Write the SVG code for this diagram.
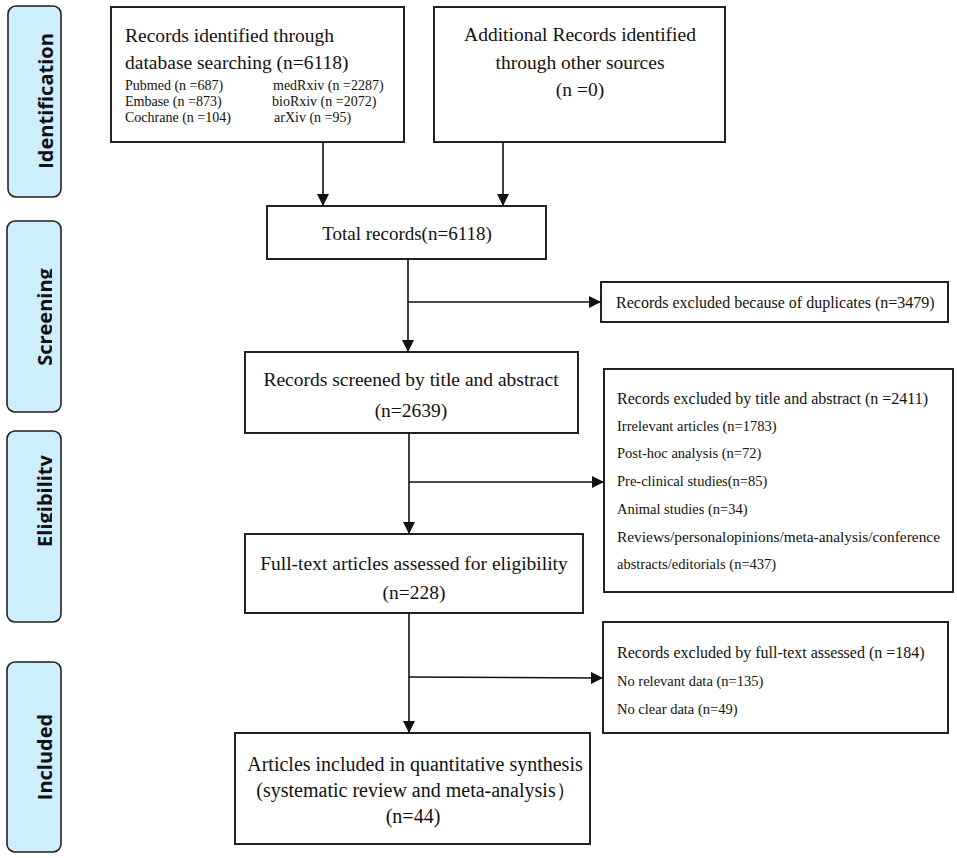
<svg xmlns="http://www.w3.org/2000/svg" width="957" height="858" viewBox="0 0 957 858">
<defs>
<style>
.box{fill:#fff;stroke:#222;stroke-width:2}
.side{fill:#cdeeff;stroke:#222;stroke-width:1.6}
.st{font-family:"Open Sans","DejaVu Sans",sans-serif;font-weight:bold;font-size:20px;fill:#111;text-anchor:middle}
.t{font-family:"Liberation Serif","Times New Roman",serif;font-size:19.5px;fill:#111}
.c{text-anchor:middle}
.s{font-family:"Liberation Serif","Times New Roman",serif;font-size:14px;fill:#111}
.m{font-family:"Liberation Serif","Times New Roman",serif;font-size:14.5px;fill:#111}
.h{font-family:"Liberation Serif","Times New Roman",serif;font-size:16px;fill:#111}
.ln{stroke:#111;stroke-width:1.6;fill:none}
</style>
<marker id="ah" markerWidth="12" markerHeight="12" refX="10" refY="5" orient="auto" markerUnits="userSpaceOnUse" viewBox="0 0 10 10">
<path d="M0,0 L10,5 L0,10 z" fill="#111"/>
</marker>
<clipPath id="clipS"><rect x="0" y="221" width="52" height="192"/></clipPath>
<clipPath id="clipE"><rect x="0" y="431" width="52" height="192"/></clipPath>
</defs>
<rect width="957" height="858" fill="#fff"/>

<g id="side-identification">
<rect class="side" x="8" y="6" width="53" height="191" rx="8"/>
<text class="st" transform="translate(53,101) rotate(-90)">Identification</text>
</g>
<g id="side-screening">
<rect class="side" x="7" y="221" width="54" height="191" rx="8"/>
<g clip-path="url(#clipS)">
<text class="st" transform="translate(51.5,317) rotate(-90)">Screening</text>
</g>
</g>
<g id="side-eligibility">
<rect class="side" x="7" y="431" width="54" height="191" rx="8"/>
<g clip-path="url(#clipE)">
<text class="st" transform="translate(51.5,501) rotate(-90)">Eligibility</text>
</g>
</g>
<g id="side-included">
<rect class="side" x="7" y="662" width="54" height="190" rx="8"/>
<text class="st" transform="translate(52,757) rotate(-90)">Included</text>
</g>

<g id="n-db">
<rect class="box" x="111" y="7" width="293" height="135"/>
<text class="t" x="125" y="42">Records identified through</text>
<text class="t" x="125" y="69">database searching (n=6118)</text>
<text class="s" x="125" y="90">Pubmed (n =687)</text>
<text class="s" x="273" y="90">medRxiv (n =2287)</text>
<text class="s" x="125" y="106">Embase (n =873)</text>
<text class="s" x="272" y="106">bioRxiv (n =2072)</text>
<text class="s" x="125" y="122">Cochrane (n =104)</text>
<text class="s" x="274" y="122">arXiv (n =95)</text>
</g>
<g id="n-other">
<rect class="box" x="434" y="7" width="291" height="135"/>
<text class="t c" x="580" y="41">Additional Records identified</text>
<text class="t c" x="580" y="69">through other sources</text>
<text class="t c" x="580" y="96">(n =0)</text>
</g>
<g id="n-total">
<rect class="box" x="267" y="206" width="279" height="53"/>
<text class="t c" x="407" y="240" style="font-size:19px">Total records(n=6118)</text>
</g>
<g id="n-dup">
<rect class="box" x="601" y="282" width="347" height="40"/>
<text class="h" x="616" y="308">Records excluded because of duplicates (n=3479)</text>
</g>
<g id="n-screened">
<rect class="box" x="245" y="352" width="333" height="81"/>
<text class="t c" x="411" y="386">Records screened by title and abstract</text>
<text class="t c" x="411" y="417">(n=2639)</text>
</g>
<g id="n-excl-ta">
<rect class="box" x="604" y="369" width="349" height="223"/>
<text class="h" x="617" y="404">Records excluded by title and abstract (n =2411)</text>
<text class="m" x="617" y="431">Irrelevant articles (n=1783)</text>
<text class="m" x="617" y="458">Post-hoc analysis (n=72)</text>
<text class="m" x="617" y="486">Pre-clinical studies(n=85)</text>
<text class="m" x="617" y="514">Animal studies (n=34)</text>
<text class="m" x="617" y="542" textLength="323" lengthAdjust="spacingAndGlyphs">Reviews/personalopinions/meta-analysis/conference</text>
<text class="m" x="617" y="569">abstracts/editorials (n=437)</text>
</g>
<g id="n-fulltext">
<rect class="box" x="245" y="534" width="338" height="79"/>
<text class="t c" x="414" y="570">Full-text articles assessed for eligibility</text>
<text class="t c" x="414" y="599">(n=228)</text>
</g>
<g id="n-excl-ft">
<rect class="box" x="603" y="622" width="345" height="111"/>
<text class="h" x="617" y="658">Records excluded by full-text assessed (n =184)</text>
<text class="m" x="617" y="686">No relevant data (n=135)</text>
<text class="m" x="617" y="714">No clear data (n=49)</text>
</g>
<g id="n-included">
<rect class="box" x="235" y="733" width="355" height="111"/>
<text class="t c" x="415" y="771" style="font-size:20px">Articles included in quantitative synthesis</text>
<text class="t c" x="416" y="797" style="font-size:20px">(systematic review and meta-analysis）</text>
<text class="t c" x="413" y="823" style="font-size:20px">(n=44)</text>
</g>

<g id="connectors">
<line class="ln" x1="323" y1="142" x2="323" y2="206" marker-end="url(#ah)"/>
<line class="ln" x1="503" y1="142" x2="503" y2="206" marker-end="url(#ah)"/>
<line class="ln" x1="408" y1="259" x2="408" y2="352" marker-end="url(#ah)"/>
<line class="ln" x1="408" y1="302" x2="601" y2="302" marker-end="url(#ah)"/>
<line class="ln" x1="409" y1="433" x2="409" y2="534" marker-end="url(#ah)"/>
<line class="ln" x1="409" y1="482" x2="604" y2="482" marker-end="url(#ah)"/>
<line class="ln" x1="409" y1="613" x2="409" y2="733" marker-end="url(#ah)"/>
<line class="ln" x1="409" y1="677" x2="603" y2="678" marker-end="url(#ah)"/>
</g>
</svg>
